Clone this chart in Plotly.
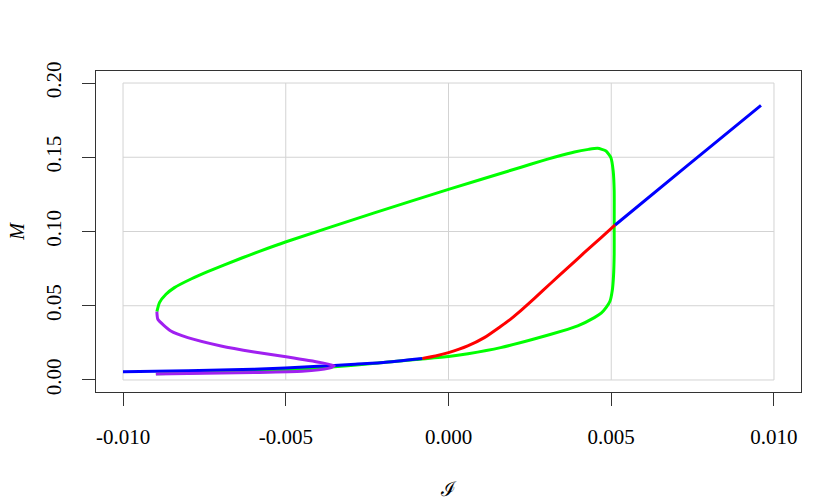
import plotly.graph_objects as go

# tick values / labels
X_TICKS = [-0.010, -0.005, 0.000, 0.005, 0.010]
X_LABELS = ["-0.010", "-0.005", "0.000", "0.005", "0.010"]
Y_TICKS = [0.00, 0.05, 0.10, 0.15, 0.20]
Y_LABELS = ["0.00", "0.05", "0.10", "0.15", "0.20"]

# green loop (lower branch, right side, top branch back to the left tip)
green_x = [-0.00899, -0.0080, -0.0070, -0.0060, -0.0050, -0.0040, -0.0030, -0.0020,
           -0.0010, 0.0000, 0.0006, 0.0016, 0.0026, 0.00366, 0.00397, 0.00448, 0.00469,
           0.00484, 0.00496, 0.00503, 0.00507, 0.00509, 0.00509, 0.00509, 0.00506,
           0.00499, 0.00484, 0.00458, 0.00430, 0.00387, 0.00325, 0.00284, 0.00223,
           0.0000, -0.00228, -0.00501, -0.00581, -0.00637, -0.00740, -0.00791,
           -0.00842, -0.00868, -0.00888, -0.00896]
green_y = [0.0042, 0.0047, 0.0053, 0.0060, 0.0068, 0.0080, 0.0098, 0.0117,
           0.0138, 0.0158, 0.0177, 0.0218, 0.0274, 0.0341, 0.0364, 0.0420, 0.0450,
           0.0487, 0.0530, 0.0600, 0.0700, 0.0850, 0.1003, 0.1273, 0.1407,
           0.1497, 0.1542, 0.1560, 0.1553, 0.1536, 0.1500, 0.1474, 0.1433,
           0.1284, 0.1125, 0.0929, 0.0866, 0.0820, 0.0730, 0.0680,
           0.0622, 0.0577, 0.0521, 0.0460]

# blue lower branch
blue_lo_x = [-0.0100, -0.0080, -0.0060, -0.0040, -0.0030, -0.0020, -0.0008]
blue_lo_y = [0.0056, 0.0062, 0.0072, 0.0092, 0.0105, 0.0118, 0.0145]

# red middle branch
red_x = [-0.0008, -0.0004, 0.0000, 0.00059, 0.0011, 0.00161, 0.00190, 0.00213,
         0.00264, 0.00315, 0.00366, 0.00417, 0.00469, 0.00512]
red_y = [0.0145, 0.0162, 0.0184, 0.0229, 0.0285, 0.0362, 0.0408, 0.0450,
         0.0550, 0.0653, 0.0755, 0.0857, 0.0959, 0.1044]

# blue upper branch
blue_hi_x = [0.00512, 0.0073, 0.0096]
blue_hi_y = [0.1044, 0.1437, 0.1850]

# purple branch
purple_x = [-0.00896, -0.00893, -0.00853, -0.00801, -0.00699, -0.00597, -0.00494,
            -0.00392, -0.00351, -0.00370, -0.00450, -0.00597, -0.00801, -0.00899]
purple_y = [0.0460, 0.0409, 0.0330, 0.0285, 0.0229, 0.0189, 0.0155,
            0.0117, 0.0096, 0.0078, 0.0058, 0.0050, 0.0043, 0.0040]

GREEN = "#00FF00"
BLUE = "#0000FF"
RED = "#FF0000"
PURPLE = "#A020F0"
GRID = "#D3D3D3"
FONT = "Liberation Serif"

fig = go.Figure()

# grid lines only over the tick range (like R's grid)
for xv in X_TICKS:
    fig.add_shape(type="line", x0=xv, x1=xv, y0=Y_TICKS[0], y1=Y_TICKS[-1],
                  line=dict(color=GRID, width=1), layer="below")
for yv in Y_TICKS:
    fig.add_shape(type="line", x0=X_TICKS[0], x1=X_TICKS[-1], y0=yv, y1=yv,
                  line=dict(color=GRID, width=1), layer="below")

for xs, ys, col in [(green_x, green_y, GREEN), (blue_lo_x, blue_lo_y, BLUE),
                    (red_x, red_y, RED), (blue_hi_x, blue_hi_y, BLUE),
                    (purple_x, purple_y, PURPLE)]:
    fig.add_trace(go.Scatter(x=xs, y=ys, mode="lines",
                             line=dict(color=col, width=3, shape="spline", smoothing=0.5),
                             hoverinfo="skip"))

# the page body adds ~8px, so margins are shifted to keep the plot box in place
fig.update_layout(
    width=837, height=503,
    paper_bgcolor="white", plot_bgcolor="white",
    showlegend=False,
    margin=dict(l=88, r=44, t=63, b=119),
    font=dict(family=FONT, size=21, color="black"),
    xaxis=dict(
        range=[-0.01083, 0.01083],
        tickvals=X_TICKS, ticktext=X_LABELS,
        ticks="outside", ticklen=13, tickcolor="#333",
        showline=True, linecolor="#333", linewidth=1, mirror=True,
        showgrid=False, zeroline=False, automargin=False,
        tickfont=dict(family=FONT, size=21),
        ticklabelstandoff=13,
    ),
    yaxis=dict(
        range=[-0.0081, 0.2081],
        tickvals=Y_TICKS, ticktext=Y_LABELS,
        ticks="outside", ticklen=13, tickcolor="#333",
        showline=True, linecolor="#333", linewidth=1, mirror=True,
        showgrid=False, zeroline=False, automargin=False,
        tickangle=-90,
        tickfont=dict(family=FONT, size=21),
        ticklabelstandoff=13,
    ),
    annotations=[
        dict(text="ℐ", xref="paper", yref="paper", x=0.5, y=-0.302,
             showarrow=False, xanchor="center", yanchor="middle",
             font=dict(family="DejaVu Serif", size=20)),
        dict(text="<i>M</i>", xref="paper", yref="paper", x=-0.113, y=0.5,
             textangle=-90, showarrow=False, xanchor="center", yanchor="middle",
             font=dict(family=FONT, size=20)),
    ],
)

fig.write_html("out.html")
